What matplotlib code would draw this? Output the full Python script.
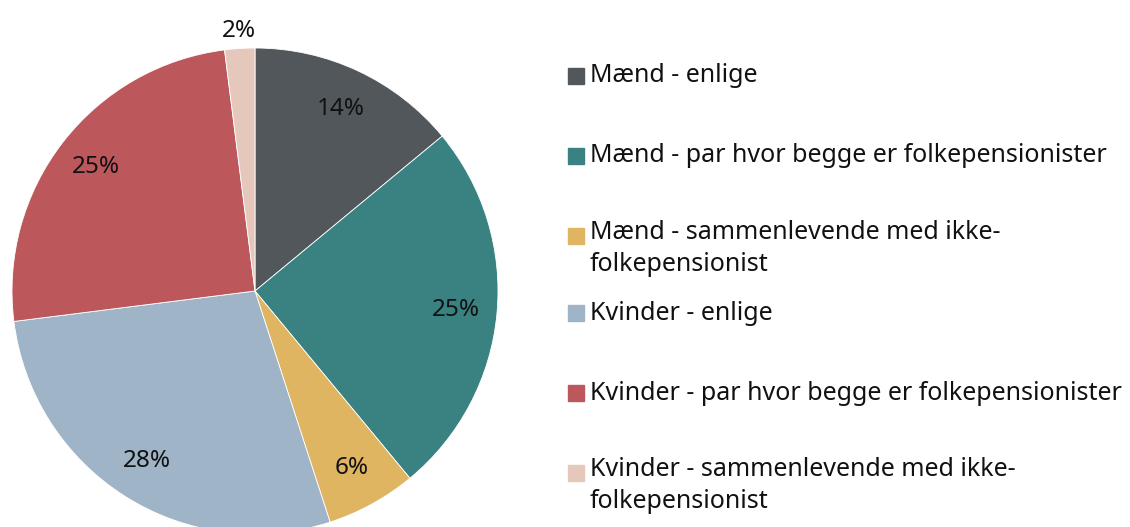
import matplotlib.pyplot as plt
from matplotlib.patches import Rectangle

plt.rcParams["font.family"] = ["Noto Sans", "DejaVu Sans"]

LABELS = [
    "Mænd - enlige",
    "Mænd - par hvor begge er folkepensionister",
    "Mænd - sammenlevende med ikke-\nfolkepensionist",
    "Kvinder - enlige",
    "Kvinder - par hvor begge er folkepensionister",
    "Kvinder - sammenlevende med ikke-\nfolkepensionist",
]
SHARES = [14, 25, 6, 28, 25, 2]
COLORS = ["#52575c", "#3a8282", "#e0b562", "#9fb4c7", "#bc585c", "#e6c7bc"]

W, H = 1130, 527
fig = plt.figure(figsize=(W / 100, H / 100), dpi=100)

# pie: centre (255, 291) px from top-left, radius 243 px
cx, cy, r = 255, 291, 243
ax = fig.add_axes([(cx - r) / W, (H - cy - r) / H, 2 * r / W, 2 * r / H])
wedges, texts, autotexts = ax.pie(
    SHARES,
    colors=COLORS,
    startangle=90,
    counterclock=False,
    autopct=lambda p: f"{p:.0f}%",
    pctdistance=0.83,
    wedgeprops={"edgecolor": "white", "linewidth": 0.6},
    textprops={"fontsize": 17.5, "color": "#111111"},
)
# smallest slice label sits outside the pie
px, py = autotexts[-1].get_position()
autotexts[-1].set_position((px * 1.29, py * 1.29))
ax.set_xlim(-1, 1)
ax.set_ylim(-1, 1)
ax.set_aspect("equal")
ax.axis("off")

# legend drawn by hand to match the spacing
row_y = [76, 156, 236, 313, 393, 473]
for label, color, y in zip(LABELS, COLORS, row_y):
    fig.patches.append(Rectangle((568 / W, (H - y - 8) / H), 16 / W, 16 / H,
                                 transform=fig.transFigure, color=color))
    if "\n" in label:
        # first line centred on the row, second line below
        fig.text(590 / W, (H - y + 16) / H, label, fontsize=18, va="top",
                 ha="left", color="#111111", linespacing=1.35)
    else:
        fig.text(590 / W, (H - y) / H, label, fontsize=18, va="center",
                 ha="left", color="#111111")

fig.savefig("out.png", dpi=100)
